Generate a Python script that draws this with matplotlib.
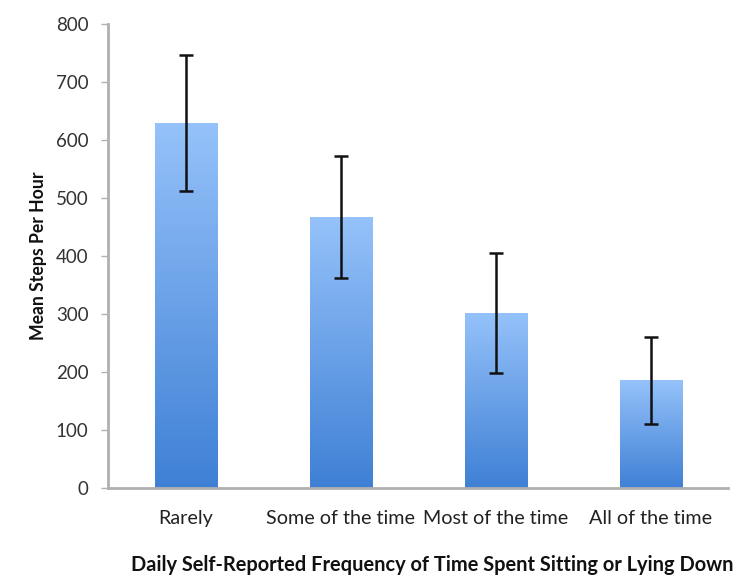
import matplotlib
matplotlib.use("Agg")
import matplotlib.pyplot as plt
import numpy as np
from matplotlib.colors import LinearSegmentedColormap

categories = ["Rarely", "Some of the time", "Most of the time", "All of the time"]
means = [629, 467, 302, 186]
errors = [117, 105, 103, 75]
yticks = [0, 100, 200, 300, 400, 500, 600, 700, 800]

plt.rcParams['font.family'] = ['Lato', 'DejaVu Sans']

fig = plt.figure(figsize=(7.5, 5.82), dpi=100)
ax = fig.add_axes([0.144, 0.1615, 0.827, 0.7973])

x = np.arange(len(categories))
bars = ax.bar(x, means, width=0.4, color='none', edgecolor='none', zorder=2)

cmap = LinearSegmentedColormap.from_list('g', ['#3f80d5', '#95c2fa'])
grad = np.linspace(0, 1, 256).reshape(-1, 1)
for b in bars:
    x0, y0 = b.get_x(), b.get_y()
    w, h = b.get_width(), b.get_height()
    im = ax.imshow(grad, extent=[x0, x0 + w, y0, y0 + h], origin='lower',
                   cmap=cmap, aspect='auto', zorder=2)
    im.set_clip_path(b)

ax.errorbar(x, means, yerr=errors, fmt='none', ecolor='#111111',
            elinewidth=1.8, capsize=5, capthick=1.8, zorder=3)

ax.set_xlim(-0.5, 3.5)
ax.set_ylim(0, 800)
ax.set_yticks(yticks)
ax.set_xticks(x)
ax.set_xticklabels(categories)

for s in ['top', 'right']:
    ax.spines[s].set_visible(False)
for s in ['left', 'bottom']:
    ax.spines[s].set_color('#b0b0b0')
    ax.spines[s].set_linewidth(2)

ax.tick_params(axis='y', colors='#b0b0b0', labelcolor='#333333', labelsize=13.5,
               length=5, width=1, direction='out', pad=9)
ax.tick_params(axis='x', length=0, labelcolor='#222222', labelsize=14.2, pad=16)

ax.set_ylabel("Mean Steps Per Hour", fontsize=12.7, fontweight='bold', color='#111111', labelpad=6)
ax.set_xlabel("Daily Self-Reported Frequency of Time Spent Sitting or Lying Down",
              fontsize=14.4, fontweight='bold', color='#111111', labelpad=20)
ax.xaxis.label.set_x(0.523)

fig.savefig("out.png", dpi=100, facecolor='white')
